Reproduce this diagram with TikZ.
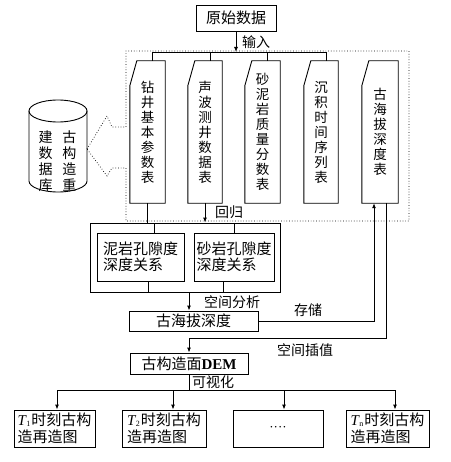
\documentclass[tikz,border=0pt]{standalone}
\usepackage{fontspec}
\newfontfamily\cjk{Noto Sans CJK SC}
\newfontfamily\tms{Liberation Serif}
\usetikzlibrary{arrows.meta,calc}
\newcommand\tsub[1]{{\tms\itshape T}\kern0.3pt\raisebox{-1pt}{\tms\fontsize{8}{8}\selectfont #1}\kern1pt}
\begin{document}
\begin{tikzpicture}[x=1pt,y=-1pt,
 box/.style={draw, line width=0.9pt, inner sep=1pt, font=\cjk\fontsize{15}{15.5}\selectfont},
 tbox/.style={box, align=left, minimum height=37pt, font=\cjk\fontsize{15}{16.5}\selectfont},
 tbl/.style={inner sep=0pt, align=center, font=\cjk\fontsize{13.5}{15}\selectfont, minimum height=142pt},
 lbl/.style={inner sep=0pt, font=\cjk\fontsize{14}{15}\selectfont},
 ln/.style={line width=0.9pt},
 arr/.style={ln, -{Latex[length=5pt,width=4pt]}},
 dots/.style={dotted, line width=0.7pt}]
\fill[white] (0,0) rectangle (450,462);
\useasboundingbox (0,0) rectangle (450,462);
% source
\node[box, minimum width=80pt, minimum height=26pt] (top) at (236,18) {原始数据};
\coordinate (bus) at (236,52);
\draw[arr] (top.south) -- (top.south |- bus);
\node[lbl] (in) at (256,42) {输入};
% tables
\node[tbl, minimum width=35pt] (t1) at (147.5,132) {钻\\井\\基\\本\\参\\数\\表};
\node[tbl, minimum width=34pt] (t2) at (205,132) {声\\波\\测\\井\\数\\据\\表};
\node[tbl, minimum width=35pt] (t3) at (262.5,132) {砂\\泥\\岩\\质\\量\\分\\数\\表};
\node[tbl, minimum width=34pt] (t4) at (321,132) {沉\\积\\时\\间\\序\\列\\表};
\node[tbl, minimum width=36pt] (t5) at (380,132) {古\\海\\拔\\深\\度\\表};
\foreach \n in {t1,t2,t3,t4,t5}
  \draw[ln] ([yshift=-25pt]\n.north west) -- ([xshift=7pt]\n.north west) -- (\n.north east) -- (\n.south east) -- (\n.south west) -- cycle;
\draw[ln] ([xshift=5pt]t1.north |- bus) -- ([xshift=5pt]t4.north |- bus);
\foreach \n in {t1,t2,t3,t4}
  \draw[ln] ([xshift=5pt]\n.north |- bus) -- ([xshift=5pt]\n.north);
% database cylinder and callout
\draw[ln] (29,111) -- (29,181) arc[start angle=180,end angle=360,x radius=29pt,y radius=11pt] -- (87,111);
\draw[ln] (58,111) ellipse [x radius=29pt, y radius=11pt];
\node[lbl, align=center, font=\cjk\fontsize{14}{16}\selectfont] (db) at (57.5,161) {建\hspace{10pt}古\\数\hspace{10pt}构\\据\hspace{10pt}造\\库\hspace{10pt}重};
\coordinate (cp) at (87,149);
\draw[dots] (cp) -- (107,116) -- (112,127) -- (126,127) -- (126,51) -- (409,51) -- (409,221) -- (126,221) -- (126,168) -- (112,168) -- (107,176) -- cycle;
% regression block
\node[draw, ln, minimum width=190pt, minimum height=69pt] (outer) at (185,257.5) {};
\node[box, align=left, minimum width=87pt, minimum height=48pt] (ia) at (140.5,257) {泥岩孔隙度\\深度关系};
\node[box, align=left, minimum width=80pt, minimum height=48pt] (ib) at (234,257) {砂岩孔隙度\\深度关系};
\draw[ln] (t1.south) -- (t1.south |- outer.north);
\draw[arr] (t2.south) -- (t2.south |- outer.north);
\node[lbl] (hg) at (229,212) {回归};
\draw[ln] ([xshift=14pt]ia.north) -- ([xshift=14pt]ia.north |- outer.north);
\draw[ln] (ib.north) -- (ib.north |- outer.north);
\draw[ln] ([xshift=8pt]ia.south) -- ([xshift=8pt]ia.south |- outer.south);
\draw[ln] ([xshift=-11pt]ib.south) -- ([xshift=-11pt]ib.south |- outer.south);
% paleo depth
\node[box, minimum width=129pt, minimum height=20pt] (gh) at (193.5,321) {古海拔深度};
\node[box, minimum width=118pt, minimum height=21pt] (dem) at (189,363.5) {古构造面{\tms\bfseries DEM}};
\draw[arr] (outer.south -| dem.north) -- (gh.north -| dem.north);
\node[lbl] (sa) at (232,302) {空间分析};
\draw[arr] (gh.east) -| ([xshift=-6pt]t5.south);
\node[lbl] (cc) at (308,310) {存储};
\coordinate (ip) at (386,338);
\draw[arr] ([xshift=6pt]t5.south) -- ([xshift=6pt]t5.south |- ip) -| (dem.north);
\node[lbl] (cz) at (305,350) {空间插值};
% visualisation
\coordinate (vis) at (188,390);
\draw[ln] (dem.south) -- (dem.south |- vis);
\node[lbl] (ksh) at (213,382) {可视化};
\node[tbox, minimum width=81pt] (b1) at (54.5,428.5) {\tsub{1}时刻古构\\造再造图};
\node[tbox, minimum width=84pt] (b2) at (164,428.5) {\tsub{2}时刻古构\\造再造图};
\node[box, minimum width=90pt, minimum height=37pt, font=\tms\fontsize{13}{13}\selectfont] (b3) at (278,428.5) {····};
\node[tbox, minimum width=83pt] (b4) at (387.5,428.5) {\tsub{n}时刻古构\\造再造图};
\draw[ln] ([xshift=2.5pt]b1.north |- vis) -- ([xshift=7.5pt]b4.north |- vis);
\draw[arr] ([xshift=2.5pt]b1.north |- vis) -- ([xshift=2.5pt]b1.north);
\draw[arr] ([xshift=9pt]b2.north |- vis) -- ([xshift=9pt]b2.north);
\draw[arr] ([xshift=6pt]b3.north |- vis) -- ([xshift=6pt]b3.north);
\draw[arr] ([xshift=7.5pt]b4.north |- vis) -- ([xshift=7.5pt]b4.north);
\end{tikzpicture}
\end{document}
